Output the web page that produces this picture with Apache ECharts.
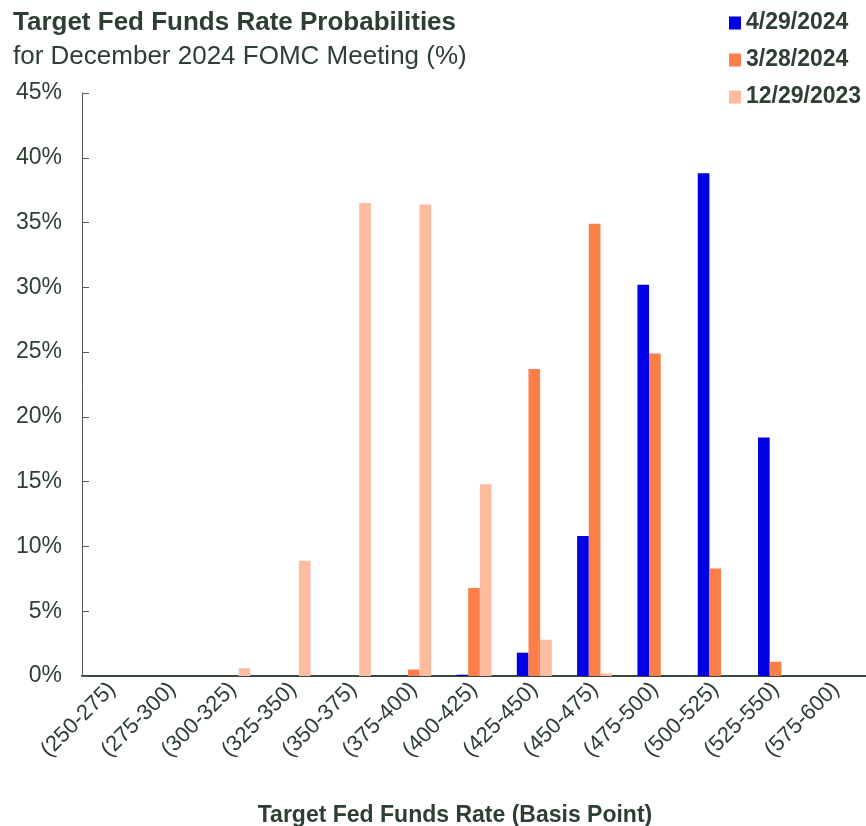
<!DOCTYPE html>
<html>
<head>
<meta charset="utf-8">
<script src="https://cdn.jsdelivr.net/npm/echarts@6/dist/echarts.min.js"></script>
<style>
html,body{margin:0;padding:0;background:#fff;}
#chart{width:866px;height:826px;}
</style>
</head>
<body>
<div id="chart"></div>
<script>
const categories = ['(250-275)','(275-300)','(300-325)','(325-350)','(350-375)','(375-400)','(400-425)','(425-450)','(450-475)','(475-500)','(500-525)','(525-550)','(575-600)'];
const seriesNames = ['4/29/2024','3/28/2024','12/29/2023'];
const apr2024 = [0,0,0,0,0,0,0.1,1.8,10.8,30.2,38.8,18.4,0];
const mar2024 = [0,0,0,0,0,0.5,6.8,23.7,34.9,24.9,8.3,1.1,0];
const dec2023 = [0,0,0.6,8.9,36.5,36.4,14.8,2.8,0.2,0,0,0,0];
const yTicks = [0,5,10,15,20,25,30,35,40,45];

const textColor = '#2d3e33';
const font = 'Liberation Sans, Arial, sans-serif';
const colors = ['#0000e6','#fc7f4a','#fdbba0'];

const chart = echarts.init(document.getElementById('chart'), null, {renderer:'canvas'});
chart.setOption({
  animation:false,
  backgroundColor:'#fff',
  title:[
    {text:'Target Fed Funds Rate Probabilities', left:8, top:5,
     textStyle:{fontFamily:font, fontSize:26, fontWeight:'bold', color:textColor}},
    {text:'for December 2024 FOMC Meeting (%)', left:8, top:39,
     textStyle:{fontFamily:font, fontSize:26, fontWeight:'normal', color:textColor}},
    {text:'Target Fed Funds Rate (Basis Point)', left:450, top:799, textAlign:'center',
     textStyle:{fontFamily:font, fontSize:23, fontWeight:'bold', color:textColor}}
  ],
  legend:{
    orient:'vertical', left:729, top:11, padding:0,
    itemWidth:12, itemHeight:13, itemGap:13, icon:'rect',
    textStyle:{fontFamily:font, fontSize:23, fontWeight:'bold', color:textColor, lineHeight:24},
    data:seriesNames
  },
  grid:{left:82, right:0, top:93, bottom:150, containLabel:false},
  xAxis:{
    type:'category', data:categories, boundaryGap:true,
    axisLine:{show:true, lineStyle:{color:'#37483d', width:2}},
    axisTick:{show:false},
    axisLabel:{rotate:45, margin:10, interval:0, fontFamily:font, fontSize:22, color:textColor}
  },
  yAxis:{
    type:'value', min:0, max:45, interval:5,
    axisLine:{show:true, lineStyle:{color:'#5a5a5a', width:1}},
    axisTick:{show:true, inside:true, length:7, lineStyle:{color:'#5a5a5a'}},
    splitLine:{show:false},
    axisLabel:{margin:20, fontFamily:font, fontSize:23, color:textColor, formatter:v=>v+'%'}
  },
  series:[
    {name:seriesNames[0], type:'bar', data:apr2024, itemStyle:{color:colors[0]}, barGap:'0%', barCategoryGap:'42%'},
    {name:seriesNames[1], type:'bar', data:mar2024, itemStyle:{color:colors[1]}, barGap:'0%', barCategoryGap:'42%'},
    {name:seriesNames[2], type:'bar', data:dec2023, itemStyle:{color:colors[2]}, barGap:'0%', barCategoryGap:'42%'}
  ]
});
</script>
</body>
</html>
